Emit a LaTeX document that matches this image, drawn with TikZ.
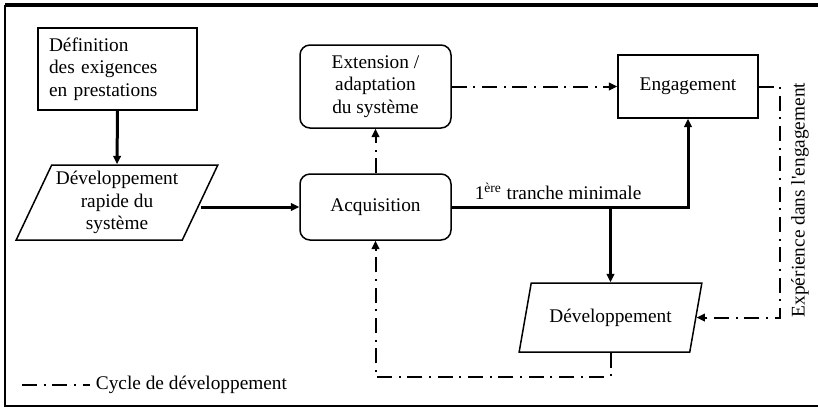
\documentclass[tikz,border=0pt]{standalone}
\usepackage{fontspec}
\setmainfont{Liberation Serif}[Ligatures=TeXOff]
\usetikzlibrary{shapes.geometric, arrows.meta}

\begin{document}
\begin{tikzpicture}[x=0.6pt, y=-0.6pt,
    font=\fontsize{11.6}{13.5}\selectfont,
    >={Triangle[length=5pt,width=4.5pt]},
    box/.style={draw, line width=0.9pt, align=center, inner sep=0pt},
    rbox/.style={box, rounded corners=6pt},
    para/.style={box, trapezium, trapezium stretches=true,
      trapezium left angle=62, trapezium right angle=118},
    flow/.style={line width=1.8pt},
    cyc/.style={line width=1.2pt, dash pattern=on 9pt off 4pt on 1.2pt off 4pt}]

% fix the page size
\useasboundingbox (0,0) rectangle (818,409);

% frame (no right side)
\draw[line width=2.4pt] (5,5) -- (818,5);
\draw[line width=1.5pt] (5,5) -- (5,406) -- (818,406);

% boxes
\node[box, align=left, text width=82.2pt, inner xsep=6.6pt, minimum height=49.2pt]
  (def) at (117.5,69) {Définition\\des exigences\\en prestations};
\node[para, minimum width=121.2pt, minimum height=45pt]
  (rapid) at (117,202.5) {Développement\\rapide du\\système};
\node[rbox, minimum width=90.6pt, minimum height=39.6pt]
  (acq) at (375.5,207) {Acquisition};
\node[rbox, minimum width=90.6pt, minimum height=49.8pt]
  (ext) at (375.5,86.5) {Extension /\\adaptation\\du système};
\node[box, minimum width=84pt, minimum height=37.8pt]
  (eng) at (688,86.5) {Engagement};
\node[para, minimum width=109.8pt, minimum height=41.4pt]
  (dev) at (610.5,317.5) {Développement};

% helper points
\coordinate (split) at (dev.north |- acq.east);
\coordinate (fb) at (780,0);
\coordinate (low) at (0,377);

% main flow
\draw[flow, ->] (def.south) -- (rapid.north);
\draw[flow, ->] (rapid.east |- acq.west) -- (acq.west);
\draw[flow, ->] (acq.east) -- node[above, pos=0.45] (first) {1\textsuperscript{ère} tranche minimale}
  (acq.east -| eng.south) -- (eng.south);
\draw[flow, ->] (split) -- (dev.north);

% development cycle
\draw[cyc, ->] (acq.north) -- (ext.south);
\draw[cyc, ->] (ext.east) -- (eng.west);
\draw[cyc, ->] (eng.east) -- (eng.east -| fb) |- (dev.east);
\draw[cyc, ->] (dev.south) -- (dev.south |- low) -| (acq.south);

% side label
\node[rotate=90] (exp) at (800,200) {Expérience dans l'engagement};

% legend
\node[anchor=west] (legtxt) at (90,385) {Cycle de développement};
\coordinate (leg) at (22,385);
\draw[cyc] (leg) -- (legtxt.west);

\end{tikzpicture}
\end{document}
